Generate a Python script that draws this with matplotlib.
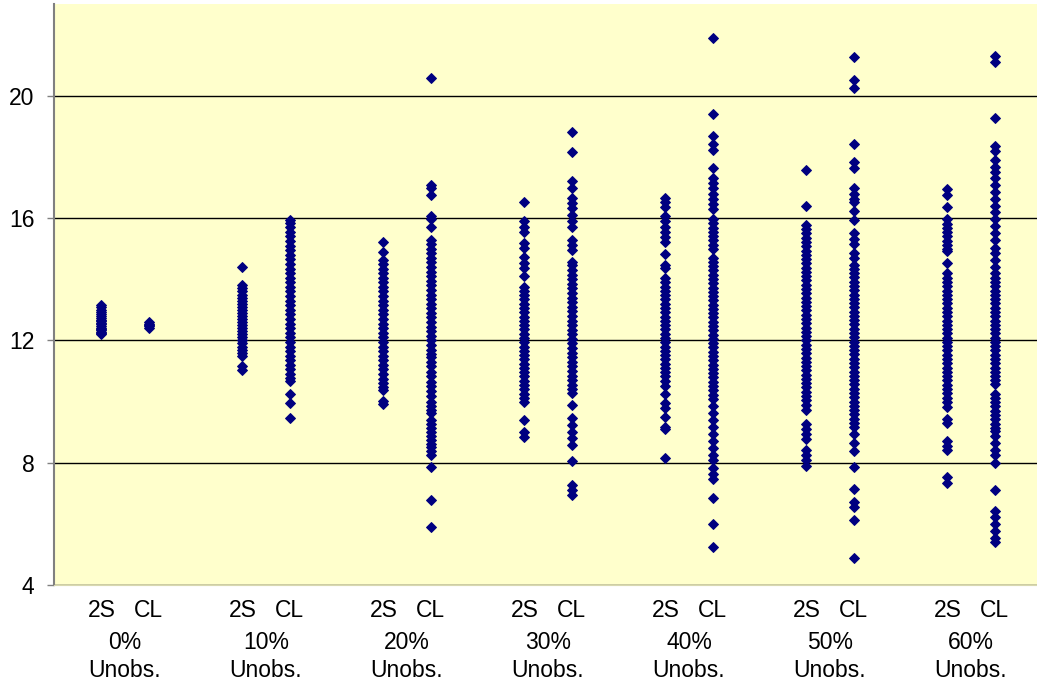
"""
Scatter of estimates per method (2S / CL) for increasing share of unobserved data.
"""
import matplotlib
matplotlib.use('Agg')
import matplotlib.pyplot as plt

plt.rcParams['font.family'] = ['Liberation Sans', 'DejaVu Sans']

groups = ['0%', '10%', '20%', '30%', '40%', '50%', '60%']
methods = ['2S', 'CL']

# values, per group: 2S column then CL column
unobs_0_2s = [13.17, 13.08, 13.0, 12.93, 12.87, 12.8, 12.74, 12.68, 12.62, 12.57, 12.52, 12.47,
              12.42, 12.37, 12.33, 12.29, 12.25, 12.21]
unobs_0_cl = [12.6, 12.55, 12.5, 12.46, 12.42]

unobs_10_2s = [14.4, 13.81, 13.7, 13.6, 13.5, 13.4, 13.3, 13.2, 13.1, 13.0, 12.9, 12.8, 12.7, 12.6,
               12.5, 12.4, 12.3, 12.2, 12.1, 12.0, 11.9, 11.8, 11.7, 11.6, 11.49, 11.17, 11.03]
unobs_10_cl = [15.93, 15.85, 15.7, 15.55, 15.4, 15.25, 15.1, 14.95, 14.8, 14.65, 14.5, 14.35, 14.2,
               14.05, 13.9, 13.75, 13.6, 13.45, 13.3, 13.15, 13.0, 12.85, 12.7, 12.55, 12.4, 12.25,
               12.1, 11.95, 11.8, 11.65, 11.5, 11.35, 11.2, 11.05, 10.9, 10.78, 10.67, 10.25, 9.96,
               9.47]

unobs_20_2s = [15.23, 14.9, 14.63, 14.5, 14.35, 14.2, 14.05, 13.9, 13.75, 13.6, 13.45, 13.3, 13.15,
               13.0, 12.85, 12.7, 12.55, 12.4, 12.25, 12.1, 11.95, 11.8, 11.65, 11.5, 11.35, 11.2,
               11.05, 10.9, 10.75, 10.6, 10.48, 10.38, 10.03, 9.92]
unobs_20_cl = [20.58, 17.09, 16.98, 16.76, 16.07, 15.97, 15.72, 15.29, 15.15, 15.0, 14.85, 14.7,
               14.55, 14.4, 14.25, 14.1, 13.95, 13.8, 13.65, 13.5, 13.35, 13.2, 13.05, 12.9, 12.75,
               12.6, 12.45, 12.3, 12.15, 12.0, 11.85, 11.7, 11.57, 11.47, 11.3, 11.15, 10.98, 10.82,
               10.65, 10.5, 10.35, 10.18, 10.0, 9.85, 9.72, 9.63, 9.4, 9.28, 9.15, 9.0, 8.88, 8.75,
               8.62, 8.5, 8.38, 8.25, 7.85, 6.78, 5.9]

unobs_30_2s = [16.52, 15.89, 15.72, 15.56, 15.18, 15.02, 14.74, 14.53, 14.36, 14.09, 13.76, 13.62,
               13.48, 13.34, 13.2, 13.06, 12.92, 12.78, 12.64, 12.5, 12.36, 12.22, 12.08, 11.94,
               11.8, 11.66, 11.52, 11.38, 11.24, 11.1, 10.96, 10.82, 10.68, 10.54, 10.4, 10.26,
               10.12, 9.98, 9.4, 9.02, 8.85]
unobs_30_cl = [18.8, 18.15, 17.2, 16.98, 16.65, 16.49, 16.33, 16.1, 15.89, 15.72, 15.29, 15.13,
               14.96, 14.58, 14.45, 14.3, 14.15, 14.0, 13.85, 13.7, 13.55, 13.4, 13.25, 13.1, 12.95,
               12.8, 12.65, 12.5, 12.35, 12.2, 12.05, 11.9, 11.75, 11.6, 11.45, 11.3, 11.15, 11.0,
               10.85, 10.7, 10.55, 10.4, 10.27, 9.89, 9.45, 9.24, 9.02, 8.8, 8.58, 8.06, 7.27, 7.1,
               6.94]

unobs_40_2s = [16.65, 16.52, 16.37, 16.06, 15.89, 15.72, 15.55, 15.38, 15.21, 14.82, 14.48, 14.37,
               14.03, 13.9, 13.76, 13.62, 13.48, 13.34, 13.2, 13.06, 12.92, 12.78, 12.64, 12.5,
               12.36, 12.22, 12.08, 11.94, 11.8, 11.66, 11.52, 11.38, 11.24, 11.1, 10.96, 10.82,
               10.68, 10.52, 10.24, 9.95, 9.79, 9.5, 9.16, 9.1, 8.14]
unobs_40_cl = [21.89, 19.4, 18.69, 18.44, 18.24, 17.65, 17.31, 17.14, 16.97, 16.8, 16.63, 16.46,
               16.31, 15.97, 15.83, 15.69, 15.55, 15.41, 15.27, 15.13, 14.99, 14.71, 14.57, 14.43,
               14.29, 14.15, 14.01, 13.87, 13.73, 13.59, 13.45, 13.31, 13.17, 13.03, 12.89, 12.75,
               12.61, 12.47, 12.33, 12.19, 12.05, 11.91, 11.77, 11.63, 11.49, 11.35, 11.21, 11.07,
               10.93, 10.79, 10.65, 10.51, 10.37, 10.22, 10.07, 9.84, 9.62, 9.39, 9.16, 8.94, 8.71,
               8.48, 8.24, 8.09, 7.81, 7.64, 7.47, 6.84, 6.0, 5.23]

unobs_50_2s = [17.56, 16.4, 15.78, 15.64, 15.5, 15.36, 15.22, 15.08, 14.94, 14.8, 14.66, 14.52,
               14.38, 14.25, 14.1, 13.96, 13.82, 13.68, 13.54, 13.4, 13.26, 13.12, 12.98, 12.84,
               12.7, 12.56, 12.42, 12.28, 12.14, 12.0, 11.86, 11.72, 11.58, 11.44, 11.3, 11.16,
               11.02, 10.88, 10.74, 10.6, 10.46, 10.32, 10.18, 10.04, 9.88, 9.73, 9.28, 9.11, 8.94,
               8.77, 8.4, 8.26, 8.09, 7.9]
unobs_50_cl = [21.27, 20.53, 20.25, 18.44, 17.82, 17.65, 16.97, 16.8, 16.63, 16.52, 16.23, 15.95,
               15.5, 15.33, 15.16, 14.87, 14.71, 14.48, 14.34, 14.2, 14.06, 13.92, 13.78, 13.64,
               13.5, 13.36, 13.22, 13.08, 12.94, 12.8, 12.66, 12.52, 12.38, 12.24, 12.1, 11.96,
               11.82, 11.68, 11.54, 11.4, 11.26, 11.12, 10.98, 10.84, 10.7, 10.56, 10.42, 10.28,
               10.14, 10.0, 9.86, 9.72, 9.58, 9.44, 9.3, 9.16, 8.94, 8.66, 8.37, 7.86, 7.13, 6.73,
               6.56, 6.11, 4.89]

unobs_60_2s = [16.96, 16.74, 16.35, 15.96, 15.82, 15.68, 15.54, 15.4, 15.26, 15.12, 14.98, 14.91,
               14.52, 14.19, 14.05, 13.91, 13.77, 13.63, 13.49, 13.35, 13.21, 13.07, 12.93, 12.79,
               12.65, 12.51, 12.37, 12.23, 12.09, 11.95, 11.81, 11.67, 11.53, 11.39, 11.25, 11.11,
               10.97, 10.83, 10.69, 10.55, 10.41, 10.27, 10.13, 9.99, 9.81, 9.42, 9.31, 8.7, 8.54,
               8.43, 7.54, 7.32]
unobs_60_cl = [21.29, 21.12, 19.27, 18.35, 18.18, 17.9, 17.68, 17.52, 17.3, 17.07, 16.85, 16.63,
               16.41, 16.19, 15.96, 15.74, 15.52, 15.3, 15.02, 14.86, 14.63, 14.41, 14.19, 14.05,
               13.91, 13.77, 13.63, 13.49, 13.35, 13.21, 13.07, 12.93, 12.79, 12.65, 12.51, 12.37,
               12.23, 12.09, 11.95, 11.81, 11.67, 11.53, 11.39, 11.25, 11.11, 10.97, 10.83, 10.69,
               10.59, 10.26, 10.12, 9.98, 9.84, 9.7, 9.56, 9.42, 9.28, 9.14, 9.04, 8.87, 8.65, 8.43,
               8.26, 7.98, 7.12, 6.43, 6.21, 5.99, 5.76, 5.54, 5.41]

columns = [
    (unobs_0_2s, unobs_0_cl), (unobs_10_2s, unobs_10_cl), (unobs_20_2s, unobs_20_cl),
    (unobs_30_2s, unobs_30_cl), (unobs_40_2s, unobs_40_cl), (unobs_50_2s, unobs_50_cl),
    (unobs_60_2s, unobs_60_cl),
]
y_ticks = [4, 8, 12, 16, 20]

OFFSET = 0.167  # half distance between 2S and CL inside a group
NAVY = '#000080'
FONT_SIZE = 16.5

fig = plt.figure(figsize=(10.37, 6.81), dpi=100, facecolor='white')
ax = fig.add_axes([0.052, 0.141, 0.948, 0.853])
ax.set_facecolor('#FFFFCC')

major_pos, major_lab = [], []
for g, (two_s, cl) in enumerate(columns, start=1):
    for k, vals in enumerate((two_s, cl)):
        x = g - OFFSET if k == 0 else g + OFFSET
        ax.plot([x] * len(vals), vals, linestyle='none', marker='D', markersize=4.7,
                color=NAVY, markeredgecolor=NAVY, markeredgewidth=0.7)
        major_pos.append(x)
        major_lab.append(methods[k])

ax.set_xlim(0.496, 7.468)
ax.set_ylim(4, 23)

# horizontal gridlines
ax.set_yticks(y_ticks)
ax.yaxis.grid(True, color='black', linewidth=1)
ax.set_axisbelow(True)
ax.tick_params(axis='y', direction='out', length=5, width=1, color='#808080',
               labelsize=FONT_SIZE, pad=9)

# x labels: method names per column, group name below
ax.set_xticks(major_pos)
ax.set_xticklabels(major_lab)
ax.set_xticks(range(1, len(groups) + 1), minor=True)
ax.set_xticklabels(['%s\nUnobs.' % g for g in groups], minor=True, linespacing=1.3)
ax.tick_params(axis='x', which='major', length=0, labelsize=FONT_SIZE, pad=10)
ax.tick_params(axis='x', which='minor', length=0, labelsize=FONT_SIZE, pad=33)

for side in ['top', 'right']:
    ax.spines[side].set_visible(False)
ax.spines['left'].set_color('#808080')
ax.spines['left'].set_linewidth(1.5)
ax.spines['bottom'].set_color('#D8D8B0')
ax.spines['bottom'].set_linewidth(0.8)

fig.savefig('out.png', dpi=100, facecolor='white')
